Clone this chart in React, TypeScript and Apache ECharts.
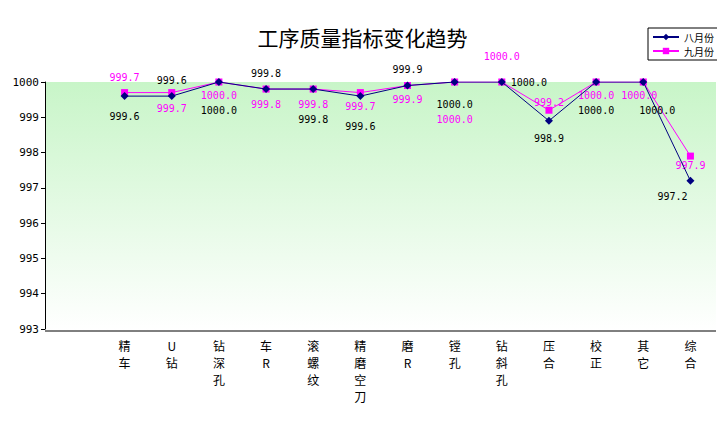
import React, { useEffect, useRef } from 'react';
import * as echarts from 'echarts';

const categories = ['精\n车', 'U\n钻', '钻\n深\n孔', '车\nR', '滚\n螺\n纹', '精\n磨\n空\n刀', '磨\nR', '镗\n孔', '钻\n斜\n孔', '压\n合', '校\n正', '其\n它', '综\n合'];
const aug = [999.6, 999.6, 1000, 999.8, 999.8, 999.6, 999.9, 1000, 1000, 998.9, 1000, 1000, 997.2];
const sep = [999.7, 999.7, 1000, 999.8, 999.8, 999.7, 999.9, 1000, 1000, 999.2, 1000, 1000, 997.9];
// label placement: [position, dx, dy]
const augLabelPos: [string, number, number][] = [
  ['bottom', 0, 6], ['top', 0, -2], ['bottom', 0, 14], ['top', 0, -2], ['bottom', 0, 16], ['bottom', 0, 16],
  ['top', 0, -2], ['bottom', 0, 8], ['right', 0, 0], ['bottom', 0, 4], ['bottom', 0, 14], ['bottom', 14, 14], ['bottom', -18, 2],
];
const sepLabelPos: [string, number, number][] = [
  ['top', 0, -2], ['bottom', 0, 2], ['bottom', 0, 0], ['bottom', 0, 2], ['bottom', 0, 2], ['bottom', 0, 0],
  ['bottom', 0, 0], ['bottom', 0, 24], ['top', 0, -12], ['top', 0, 6], ['bottom', 0, 0], ['bottom', -4, 0], ['bottom', 0, -4],
];

const App: React.FC = () => {
  const chartRef = useRef<HTMLDivElement>(null);

  useEffect(() => {
    if (!chartRef.current) return;
    const chart = echarts.init(chartRef.current, undefined, { renderer: 'svg' });
    const lbl = (color: string, pos: [string, number, number]) => ({
      show: true,
      position: pos[0] as any,
      offset: [pos[1], pos[2]],
      color,
      fontSize: 10,
      fontFamily: 'DejaVu Sans Mono',
      formatter: (p: any) => Number(p.value).toFixed(1),
    });
    const option: echarts.EChartsOption = {
      animation: false,
      backgroundColor: '#fff',
      title: {
        text: '工序质量指标变化趋势',
        left: 'center',
        top: 20,
        textStyle: { fontFamily: 'Noto Sans CJK SC', fontWeight: 'normal', fontSize: 21, color: '#000' },
      },
      legend: {
        right: 6,
        top: 27,
        orient: 'vertical',
        itemGap: 4,
        itemWidth: 26,
        itemHeight: 8,
        padding: [4, 4],
        borderColor: '#000',
        borderWidth: 1,
        borderRadius: 0,
        textStyle: { fontSize: 10, fontFamily: 'Noto Sans CJK SC', color: '#000' },
        data: ['八月份', '九月份'],
      },
      graphic: [
        {
          type: 'rect',
          z: -10,
          shape: { x: 44, y: 81, width: 671, height: 249 },
          style: {
            fill: new echarts.graphic.LinearGradient(0, 0, 0, 1, [
              { offset: 0, color: '#c8f5c8' },
              { offset: 1, color: '#ffffff' },
            ]),
          },
        },
        { type: 'line', shape: { x1: 44, y1: 330, x2: 715, y2: 330 }, style: { stroke: '#000', lineWidth: 1 } },
      ],
      grid: { left: 100, right: 10, top: 81, bottom: 91 },
      xAxis: {
        type: 'category',
        data: categories,
        axisLine: { show: false },
        axisTick: { show: false },
        axisLabel: { color: '#000', fontSize: 12, fontFamily: 'Noto Sans CJK SC', lineHeight: 17, margin: 8 },
      },
      yAxis: {
        type: 'value',
        min: 993,
        max: 1000,
        interval: 1,
        offset: 56,
        axisLine: { show: true, lineStyle: { color: '#000' } },
        axisTick: { show: true, inside: false, length: 4, lineStyle: { color: '#000' } },
        splitLine: { show: false },
        axisLabel: { color: '#000', fontSize: 11, fontFamily: 'DejaVu Sans Mono', margin: 6, formatter: (v: number) => String(v) },
      },
      series: [
        {
          name: '八月份',
          type: 'line',
          symbol: 'diamond',
          symbolSize: 8,
          color: '#000080',
          lineStyle: { width: 1, color: '#000080' },
          data: aug.map((v, i) => ({ value: v, label: lbl('#000', augLabelPos[i]) })),
          z: 3,
        },
        {
          name: '九月份',
          type: 'line',
          symbol: 'rect',
          symbolSize: 7,
          color: '#ff00ff',
          lineStyle: { width: 1, color: '#ff00ff' },
          data: sep.map((v, i) => ({ value: v, label: lbl('#ff00ff', sepLabelPos[i]) })),
          z: 2,
        },
      ],
    };
    chart.setOption(option);
    return () => chart.dispose();
  }, []);

  return (
    <div
      ref={chartRef}
      style={{ width: 723, height: 419, border: '1px solid #000', margin: -8 }}
    />
  );
};

export default App;
